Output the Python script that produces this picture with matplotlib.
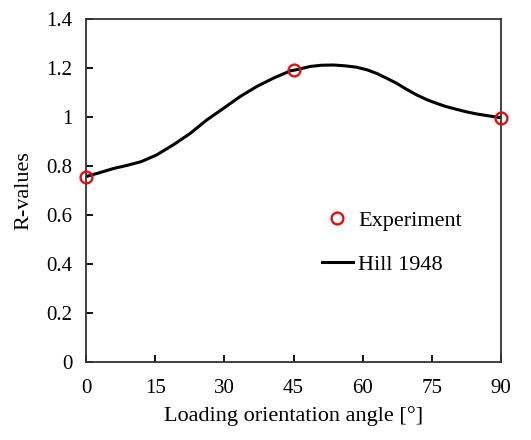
import numpy as np
import matplotlib.pyplot as plt

plt.rcParams['font.family'] = ['Liberation Serif', 'DejaVu Serif']

exp_angle = [0, 45, 90]
exp_r = [0.757, 1.19, 0.997]

hill_angle = [0, 3, 6, 9, 12, 15.3, 18.9, 22.6, 26.2, 29.8, 33.4, 37, 40.6, 44.3,
              45.7, 48.6, 51, 53.6, 56, 58.7, 61, 63, 65, 67.4, 69.5, 71.7, 74,
              76.1, 78, 80.4, 82.5, 84.8, 87.5, 90]
hill_r = [0.757, 0.773, 0.79, 0.803, 0.818, 0.845, 0.886, 0.933, 0.988, 1.035,
          1.083, 1.124, 1.158, 1.188, 1.193, 1.206, 1.211, 1.212, 1.209, 1.203,
          1.192, 1.178, 1.160, 1.137, 1.113, 1.09, 1.07, 1.055, 1.043, 1.031,
          1.021, 1.012, 1.004, 0.997]

fig = plt.figure(figsize=(5.31, 4.40), dpi=100)
fig.patch.set_facecolor('white')
ax1 = fig.add_axes([0.162, 0.177, 0.7815, 0.78])

ax1.plot(hill_angle, hill_r, color='black', lw=2.2, label='Hill 1948', zorder=2,
         solid_joinstyle='round')
ax1.plot(exp_angle, exp_r, 'o', mfc='none', mec='#e01010', mew=1.7, ms=8.5,
         label='Experiment', zorder=3, clip_on=False)

ax1.set_xlim(0, 90)
ax1.set_ylim(0, 1.4)
ax1.set_xticks(np.arange(0, 91, 15))
ax1.set_yticks(np.arange(0, 1.41, 0.2))
ax1.set_yticklabels(['0', '0.2', '0.4', '0.6', '0.8', '1', '1.2', '1.4'])
ax1.tick_params(direction='in', labelsize=15, length=5, width=1.3, pad=10)
ax1.tick_params(axis='x', pad=12)
for s in ax1.spines.values():
    s.set_linewidth(1.3)
    s.set_color('#333333')

ax1.set_xlabel('Loading orientation angle [°]', fontsize=16, labelpad=6)
ax1.set_ylabel('R-values', fontsize=16, labelpad=9)

h, l = ax1.get_legend_handles_labels()
leg = ax1.legend(h[::-1], l[::-1], loc='upper left', bbox_to_anchor=(0.52, 0.50),
                 frameon=False, fontsize=16, handlelength=1.4, handletextpad=0.25,
                 labelspacing=1.05)

fig.savefig('out.png', dpi=100)
